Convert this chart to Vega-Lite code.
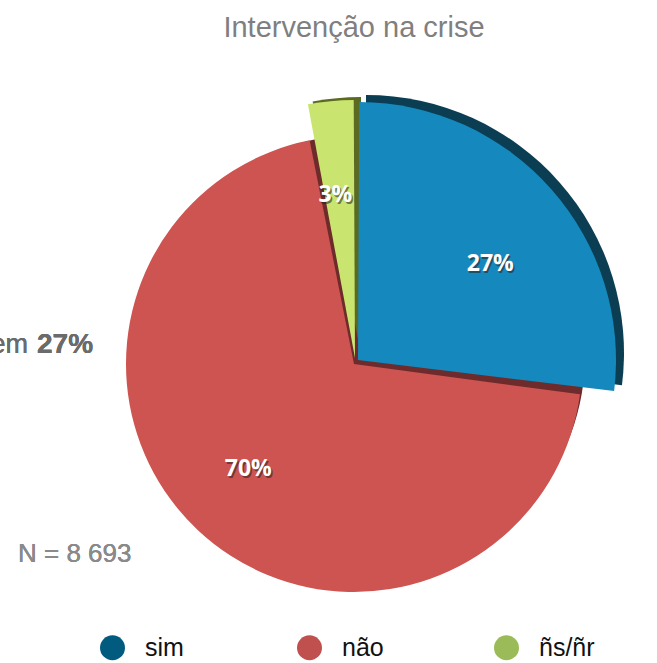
{
  "$schema": "https://vega.github.io/schema/vega-lite/v6.json",
  "autosize": {"type": "none"},
  "width": 598,
  "height": 606,
  "padding": {"left": 59, "top": 57, "right": 0, "bottom": 0},
  "background": "white",
  "config": {"view": {"stroke": null}},
  "title": {
    "text": "Intervenção na crise",
    "font": "Liberation Sans",
    "fontSize": 29,
    "fontWeight": "normal",
    "color": "#7f7f7f",
    "anchor": "middle",
    "dx": -4,
    "offset": 14
  },
  "data": {
    "values": [
      {"cat": "sim", "pct": 27, "ord": 1, "label": "27%"},
      {"cat": "não", "pct": 70, "ord": 2, "label": "70%"},
      {"cat": "ñs/ñr", "pct": 3, "ord": 3, "label": "3%"}
    ]
  },
  "layer": [
    {
      "mark": {"type": "arc", "radius": 0},
      "encoding": {
        "theta": {"field": "pct", "type": "quantitative", "stack": true, "scale": {"domain": [0, 100]}},
        "order": {"field": "ord", "type": "quantitative"},
        "fill": {
          "field": "cat",
          "type": "nominal",
          "scale": {"domain": ["sim", "não", "ñs/ñr"], "range": ["#005b7f", "#c0504d", "#9bbb59"]},
          "legend": {
            "orient": "none",
            "legendX": 41,
            "legendY": 578,
            "direction": "horizontal",
            "columns": 3,
            "gridAlign": "all",
            "columnPadding": 96,
            "title": null,
            "padding": 0,
            "symbolType": "circle",
            "symbolSize": 625,
            "symbolOpacity": 1,
            "symbolStrokeWidth": 0,
            "labelFont": "Liberation Sans",
            "labelFontSize": 25,
            "labelColor": "#111111",
            "labelOffset": 20
          }
        }
      }
    },
    {
      "transform": [
        {"stack": "pct", "groupby": [], "sort": [{"field": "ord", "order": "ascending"}], "as": ["t0", "t1"]},
        {"filter": "datum.cat === 'não'"}
      ],
      "mark": {"type": "arc", "radius": 222, "fill": "#6e2b2b", "xOffset": 5, "yOffset": -4},
      "encoding": {
        "theta": {"field": "t0", "type": "quantitative", "scale": {"domain": [0, 100]}},
        "theta2": {"field": "t1"}
      }
    },
    {
      "transform": [
        {"stack": "pct", "groupby": [], "sort": [{"field": "ord", "order": "ascending"}], "as": ["t0", "t1"]},
        {"filter": "datum.cat === 'ñs/ñr'"}
      ],
      "mark": {"type": "arc", "radius": 258, "fill": "#5b6a22", "xOffset": 3, "yOffset": -5},
      "encoding": {
        "theta": {"field": "t0", "type": "quantitative", "scale": {"domain": [0, 100]}},
        "theta2": {"field": "t1"}
      }
    },
    {
      "transform": [
        {"stack": "pct", "groupby": [], "sort": [{"field": "ord", "order": "ascending"}], "as": ["t0", "t1"]},
        {"filter": "datum.cat === 'sim'"}
      ],
      "mark": {"type": "arc", "radius": 258, "fill": "#0b3d53", "xOffset": 8, "yOffset": -7},
      "encoding": {
        "theta": {"field": "t0", "type": "quantitative", "scale": {"domain": [0, 100]}},
        "theta2": {"field": "t1"}
      }
    },
    {
      "transform": [
        {"stack": "pct", "groupby": [], "sort": [{"field": "ord", "order": "ascending"}], "as": ["t0", "t1"]},
        {"filter": "datum.cat === 'não'"}
      ],
      "mark": {"type": "arc", "radius": 228, "xOffset": -4, "yOffset": 4, "padAngle": 0.015},
      "encoding": {
        "theta": {"field": "t0", "type": "quantitative", "scale": {"domain": [0, 100]}},
        "theta2": {"field": "t1"},
        "color": {
          "field": "cat",
          "type": "nominal",
          "scale": {"domain": ["sim", "não", "ñs/ñr"], "range": ["#1589bd", "#cd5450", "#c9e56f"]},
          "legend": null
        }
      }
    },
    {
      "transform": [
        {"stack": "pct", "groupby": [], "sort": [{"field": "ord", "order": "ascending"}], "as": ["t0", "t1"]},
        {"filter": "datum.cat === 'ñs/ñr'"}
      ],
      "mark": {"type": "arc", "radius": 258, "xOffset": -3, "yOffset": -2, "padAngle": 0.01},
      "encoding": {
        "theta": {"field": "t0", "type": "quantitative", "scale": {"domain": [0, 100]}},
        "theta2": {"field": "t1"},
        "color": {"field": "cat", "type": "nominal", "legend": null}
      }
    },
    {
      "transform": [
        {"stack": "pct", "groupby": [], "sort": [{"field": "ord", "order": "ascending"}], "as": ["t0", "t1"]},
        {"filter": "datum.cat === 'sim'"}
      ],
      "mark": {"type": "arc", "radius": 258, "padAngle": 0.01},
      "encoding": {
        "theta": {"field": "t0", "type": "quantitative", "scale": {"domain": [0, 100]}},
        "theta2": {"field": "t1"},
        "color": {"field": "cat", "type": "nominal", "legend": null}
      }
    },
    {
      "mark": {"type": "text", "radius": 163, "font": "Open Sans", "fontWeight": "bold", "fontSize": 23, "fill": "#222222", "opacity": 0.55, "dx": 11.5, "dy": 14},
      "encoding": {
        "theta": {"field": "pct", "type": "quantitative", "stack": true, "scale": {"domain": [0, 100]}},
        "order": {"field": "ord", "type": "quantitative"},
        "text": {"condition": {"test": "datum.cat === 'sim'", "field": "label"}, "value": ""}
      }
    },
    {
      "mark": {"type": "text", "radius": 163, "font": "Open Sans", "fontWeight": "bold", "fontSize": 23, "fill": "white", "dx": 10, "dy": 12},
      "encoding": {
        "theta": {"field": "pct", "type": "quantitative", "stack": true, "scale": {"domain": [0, 100]}},
        "order": {"field": "ord", "type": "quantitative"},
        "text": {"condition": {"test": "datum.cat === 'sim'", "field": "label"}, "value": ""}
      }
    },
    {
      "mark": {"type": "text", "radius": 150, "font": "Open Sans", "fontWeight": "bold", "fontSize": 23, "fill": "#222222", "opacity": 0.55, "dx": -5.5, "dy": 2},
      "encoding": {
        "theta": {"field": "pct", "type": "quantitative", "stack": true, "scale": {"domain": [0, 100]}},
        "order": {"field": "ord", "type": "quantitative"},
        "text": {"condition": {"test": "datum.cat === 'não'", "field": "label"}, "value": ""}
      }
    },
    {
      "mark": {"type": "text", "radius": 150, "font": "Open Sans", "fontWeight": "bold", "fontSize": 23, "fill": "white", "dx": -7},
      "encoding": {
        "theta": {"field": "pct", "type": "quantitative", "stack": true, "scale": {"domain": [0, 100]}},
        "order": {"field": "ord", "type": "quantitative"},
        "text": {"condition": {"test": "datum.cat === 'não'", "field": "label"}, "value": ""}
      }
    },
    {
      "mark": {"type": "text", "radius": 166, "font": "Open Sans", "fontWeight": "bold", "fontSize": 23, "fill": "#222222", "opacity": 0.55, "dx": -5.5, "dy": 2},
      "encoding": {
        "theta": {"field": "pct", "type": "quantitative", "stack": true, "scale": {"domain": [0, 100]}},
        "order": {"field": "ord", "type": "quantitative"},
        "text": {"condition": {"test": "datum.cat === 'ñs/ñr'", "field": "label"}, "value": ""}
      }
    },
    {
      "mark": {"type": "text", "radius": 166, "font": "Open Sans", "fontWeight": "bold", "fontSize": 23, "fill": "white", "dx": -7},
      "encoding": {
        "theta": {"field": "pct", "type": "quantitative", "stack": true, "scale": {"domain": [0, 100]}},
        "order": {"field": "ord", "type": "quantitative"},
        "text": {"condition": {"test": "datum.cat === 'ñs/ñr'", "field": "label"}, "value": ""}
      }
    },
    {
      "mark": {"type": "text", "font": "Liberation Sans", "fontSize": 26, "fill": "#8a8a8a", "align": "left", "baseline": "alphabetic"},
      "encoding": {
        "x": {"value": -41},
        "y": {"value": 505},
        "text": {"value": "N = 8 693"}
      }
    },
    {
      "mark": {"type": "text", "font": "Liberation Sans", "fontSize": 27, "fill": "#6b6b6b", "align": "right", "baseline": "alphabetic"},
      "encoding": {
        "x": {"value": -31},
        "y": {"value": 296},
        "text": {"value": "em"}
      }
    },
    {
      "mark": {"type": "text", "font": "Liberation Sans", "fontSize": 28, "fontWeight": "bold", "fill": "#6b6b6b", "align": "left", "baseline": "alphabetic"},
      "encoding": {
        "x": {"value": -22},
        "y": {"value": 296},
        "text": {"value": "27%"}
      }
    }
  ]
}
